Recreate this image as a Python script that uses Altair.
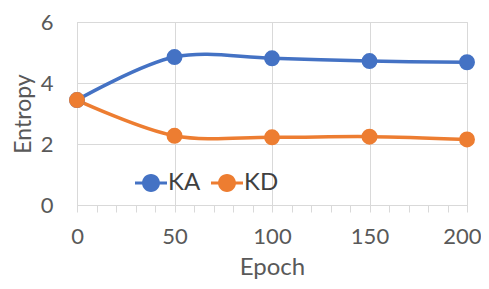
import altair as alt
import pandas as pd

epochs = [0, 50, 100, 150, 200]
ka = [3.44, 4.85, 4.81, 4.72, 4.68]
kd = [3.44, 2.27, 2.22, 2.24, 2.15]
series = ["KA", "KD"]
colors = ["#4472C4", "#ED7D31"]

df = pd.DataFrame({
    "Epoch": epochs * 2,
    "Entropy": ka + kd,
    "Series": ["KA"] * len(epochs) + ["KD"] * len(epochs),
})

FONT = "Lato"
TXT = "#595959"
GRID = "#D9D9D9"

legend_symbol = (
    "M-1,-0.1 L1,-0.1 L1,0.1 L-1,0.1 Z "
    "M0.56,0 A0.56,0.56 0 1,1 -0.56,0 A0.56,0.56 0 1,1 0.56,0 Z"
)

color = alt.Color(
    "Series:N",
    scale=alt.Scale(domain=series, range=colors),
    legend=alt.Legend(
        orient="none", legendX=58, legendY=145, direction="horizontal",
        title=None, symbolType=legend_symbol, symbolSize=1024,
        symbolStrokeWidth=0, labelFont=FONT, labelFontSize=24,
        labelColor="#404040", labelOffset=1, columnPadding=10, padding=0,
    ),
)

is_last = "datum.value === 200"
x = alt.X(
    "Epoch:Q",
    scale=alt.Scale(domain=[0, 200], nice=False),
    axis=alt.Axis(
        values=list(range(0, 201, 10)),
        labelExpr="datum.value % 50 === 0 ? datum.label : ''",
        gridColor={"condition": {"test": "datum.value % 50 === 0", "value": GRID},
                   "value": "transparent"},
        labelAlign={"condition": {"test": is_last, "value": "right"}, "value": "center"},
        labelOffset={"condition": {"test": is_last, "value": 14}, "value": 0},
        grid=True, domainColor=GRID, tickColor=GRID, tickSize=7,
        labelFont=FONT, labelFontSize=22, labelColor=TXT, labelPadding=14,
        labelFlush=False, labelBound=False, title="Epoch", titleFont=FONT,
        titleFontSize=24, titleFontWeight="normal", titleColor=TXT, titlePadding=8,
    ),
)
y = alt.Y(
    "Entropy:Q",
    scale=alt.Scale(domain=[0, 6], nice=False),
    axis=alt.Axis(
        values=[0, 2, 4, 6], grid=True, gridColor=GRID, domainColor=GRID,
        ticks=False, labelFont=FONT, labelFontSize=22, labelColor=TXT,
        labelPadding=24, title="Entropy", titleFont=FONT, titleFontSize=23,
        titleFontWeight="normal", titleColor=TXT, titlePadding=5,
    ),
)

base = alt.Chart(df).encode(x=x, y=y, color=color, order=alt.Order("Series:N"))
lines = base.mark_line(interpolate="catmull-rom", strokeWidth=3.5)
points = base.mark_point(filled=True, opacity=1, size=254, shape="circle")

chart = (lines + points).properties(
    width=390, height=183,
    autosize=alt.AutoSizeParams(type="none"),
    padding={"left": 69, "top": 14, "right": 14, "bottom": 76},
).configure_view(stroke=None).configure(background="white")

chart.save("out.html", embed_options={"renderer": "svg", "actions": False})
